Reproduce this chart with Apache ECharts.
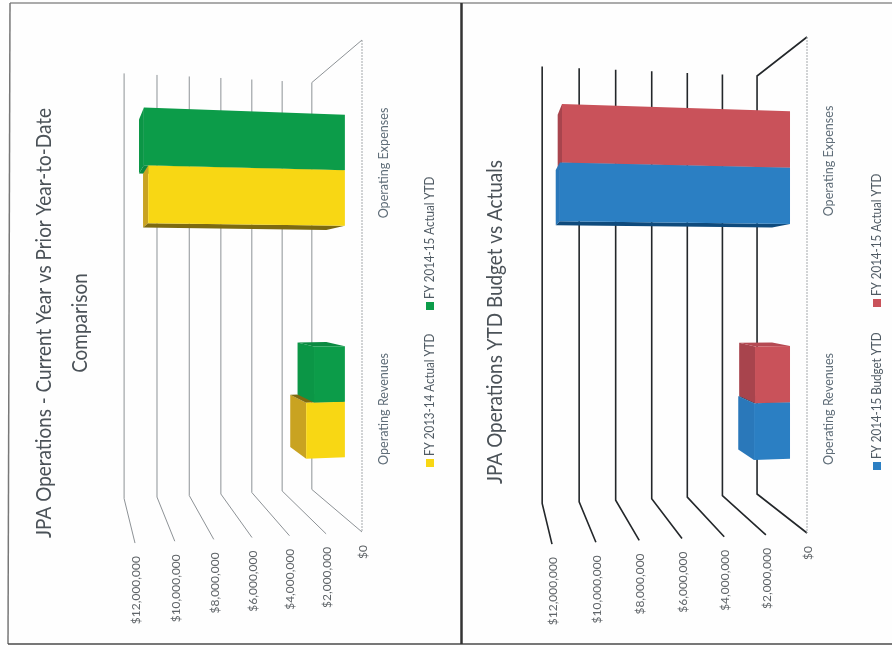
<!DOCTYPE html>
<html>
<head>
<meta charset="utf-8">
<title>JPA Operations</title>
<style>html,body{margin:0;padding:0;background:#fff}#chart{width:892px;height:650px}</style>
<script src="https://cdn.jsdelivr.net/npm/echarts@6/dist/echarts.min.js"></script>
</head>
<body>
<div id="chart"></div>
<script>
// Chart data, in dollars
const categories = ['Operating Revenues', 'Operating Expenses'];
const tickValues = [0, 2000000, 4000000, 6000000, 8000000, 10000000, 12000000];
const tickLabels = ['$0', '$2,000,000', '$4,000,000', '$6,000,000', '$8,000,000', '$10,000,000', '$12,000,000'];
const actual1314 = [2290000, 11100000];
const actual1415 = [1830000, 11330000];
const budget1415 = [1850000, 11460000];
const actual1415b = [1800000, 11360000];

const FONT = 'Lato, "Open Sans", sans-serif';
const AXIS_MAX = 12000000;

// Perspective settings of each 3D panel
const panels = [
  {
    left: 135, right: 530, top: 40, height: 492, vx: 72, sFace: 0.941, sRear: 0.877, sBack: 0.827, bow: 14, spread: 0.045,
    line: '#8d9296', lineWidth: 1, tickColor: '#5f6468',
    title: ['JPA Operations - Current Year vs Prior Year-to-Date', 'Comparison'], titleX: [44, 80], titleY: 323,
    series: [
      { name: 'FY 2013-14 Actual YTD', data: actual1314, front: '#f8d714', end: '#c9a321', side: '#7d6a10', legendY: 463 },
      { name: 'FY 2014-15 Actual YTD', data: actual1415, front: '#0c9c49', end: '#0b9646', side: '#0b8a41', legendY: 306 }
    ],
    legendX: 430
  },
  {
    left: 552, right: 85, top: 37, height: 496, vx: 489.5, sFace: 0.9465, sRear: 0.89, sBack: 0.8427, bow: 10, spread: 0.045,
    line: '#23272a', lineWidth: 1.6, tickColor: '#5f6468',
    title: ['JPA Operations YTD Budget vs Actuals'], titleX: [495], titleY: 322,
    series: [
      { name: 'FY 2014-15 Budget YTD', data: budget1415, front: '#2b7fc3', end: '#2a78ba', side: '#0e4a7c', legendY: 466 },
      { name: 'FY 2014-15 Actual YTD', data: actual1415b, front: '#c9525a', end: '#a8444d', side: '#b54a53', legendY: 303 }
    ],
    legendX: 877
  }
];

// Maps a value/category position to the screen at perspective depth s
function project(panel, api, value, cat, bandFrac, s) {
  const p = api.coord([value, cat]);
  const band = api.size([0, 1])[1];
  const t = value / AXIS_MAX;
  const midY = panel.top + panel.height / 2;
  const x = p[0] + panel.bow * t * (1 - t);
  const y = midY + (p[1] + bandFrac * band - midY) * (1 + panel.spread * t);
  return [panel.vx + (x - panel.vx) * s, midY + (y - midY) * s];
}

// Floor lines, back wall lines and tick labels
function renderWall(panel) {
  return function (params, api) {
    const v = api.value(0);
    const fb = project(panel, api, v, 0, 0.5, 1);
    const bb = project(panel, api, v, 0, 0.5, panel.sBack);
    const bt = project(panel, api, v, 1, -0.5, panel.sBack);
    const ft = project(panel, api, v, 1, -0.5, 1);
    const pts = v === 0 ? [fb, bb, bt, ft] : [fb, bb, bt];
    const children = [{
      type: 'polyline', z2: 1, shape: { points: pts },
      style: { fill: 'none', stroke: panel.line, lineWidth: panel.lineWidth }
    }, {
      type: 'text', x: fb[0] + 1, y: fb[1] + 13, rotation: Math.PI / 2, z2: 1,
      style: {
        text: tickLabels[params.dataIndex], textAlign: 'right', textVerticalAlign: 'middle',
        verticalAlign: 'middle', fill: panel.tickColor, font: '12px ' + FONT
      }
    }];
    if (v === 0) {
      children.push({
        type: 'line', z2: 1, shape: { x1: ft[0], y1: ft[1], x2: fb[0], y2: fb[1] },
        style: { stroke: '#a4a8ab', lineWidth: 1, lineDash: [2, 1] }
      });
    }
    return { type: 'group', children };
  };
}

// One 3D bar: visible end face, visible long side, then the front face
function renderBox(panel, sIdx) {
  const st = panel.series[sIdx];
  return function (params, api) {
    const v = api.value(0), cat = api.value(1);
    const a = sIdx === 0 ? 0 : -0.24, b = sIdx === 0 ? 0.24 : 0;
    const z = 10 + (cat === 0 ? (sIdx === 0 ? 0 : 3) : (sIdx === 0 ? 3 : 0));
    const P = (val, frac, s) => project(panel, api, val, cat, frac, s);
    const f = panel.sFace, r = panel.sRear;
    const poly = (pts, fill, dz) => ({ type: 'polygon', z2: z + dz, shape: { points: pts }, style: { fill } });
    const nearEdge = cat === 0 ? a : b;
    return {
      type: 'group',
      children: [
        poly([P(v, a, f), P(v, a, r), P(v, b, r), P(v, b, f)], st.end, 0),
        poly([P(0, nearEdge, f), P(0, nearEdge, r), P(v, nearEdge, r), P(v, nearEdge, f)], st.side, 1),
        poly([P(0, a, f), P(v, a, f), P(v, b, f), P(0, b, f)], st.front, 2)
      ]
    };
  };
}

const grids = [], xAxes = [], yAxes = [], series = [], graphics = [];

panels.forEach((panel, i) => {
  grids.push({ left: panel.left, right: panel.right, top: panel.top, height: panel.height });
  xAxes.push({ gridIndex: i, type: 'value', inverse: true, min: 0, max: AXIS_MAX, interval: 2000000, show: false });
  yAxes.push({
    gridIndex: i, type: 'category', data: categories, position: 'right',
    axisLine: { show: false }, axisTick: { show: false }, splitLine: { show: false },
    axisLabel: { rotate: 90, margin: 15, color: '#5f6d78', fontFamily: FONT, fontSize: 12.6 }
  });
  series.push({
    type: 'custom', xAxisIndex: i, yAxisIndex: i, silent: true, clip: false,
    encode: { x: 0, y: 1 }, data: tickValues.map(v => [v, 0]), renderItem: renderWall(panel)
  });
  panel.series.forEach((st, k) => {
    series.push({
      type: 'custom', name: st.name, xAxisIndex: i, yAxisIndex: i, clip: false,
      encode: { x: 0, y: 1 }, data: st.data.map((v, c) => [v, c]), renderItem: renderBox(panel, k)
    });
    graphics.push({ type: 'rect', shape: { x: panel.legendX - 4, y: st.legendY - 4, width: 8, height: 8 }, style: { fill: st.front } });
    graphics.push({
      type: 'text', x: panel.legendX, y: st.legendY - 7, rotation: Math.PI / 2, scaleX: 0.89,
      style: { text: st.name, textAlign: 'left', textVerticalAlign: 'middle', verticalAlign: 'middle', fill: '#4f5a63', font: '13px ' + FONT }
    });
  });
  panel.title.forEach((line, n) => {
    graphics.push({
      type: 'text', x: panel.titleX[n], y: panel.titleY, rotation: Math.PI / 2, scaleX: 0.86,
      style: { text: line, textAlign: 'center', textVerticalAlign: 'middle', verticalAlign: 'middle', fill: '#4b5258', font: '22px ' + FONT }
    });
  });
});

// Page frame and the rule between the two panels
const frame = [
  { x1: 10, y1: 3, x2: 892, y2: 3, c: '#8f8f8f', w: 1.5 },
  { x1: 10, y1: 3, x2: 8, y2: 644, c: '#777', w: 1.5 },
  { x1: 8, y1: 644, x2: 892, y2: 644, c: '#4a4a4a', w: 1.5 },
  { x1: 461.5, y1: 3, x2: 461.5, y2: 644, c: '#333', w: 2.5 }
];
frame.forEach(l => graphics.push({
  type: 'line', shape: { x1: l.x1, y1: l.y1, x2: l.x2, y2: l.y2 }, style: { stroke: l.c, lineWidth: l.w }
}));

const chart = echarts.init(document.getElementById('chart'), null, { renderer: 'canvas' });
chart.setOption({
  animation: false,
  backgroundColor: '#fefefe',
  grid: grids,
  xAxis: xAxes,
  yAxis: yAxes,
  series: series,
  graphic: graphics
});
</script>
</body>
</html>
